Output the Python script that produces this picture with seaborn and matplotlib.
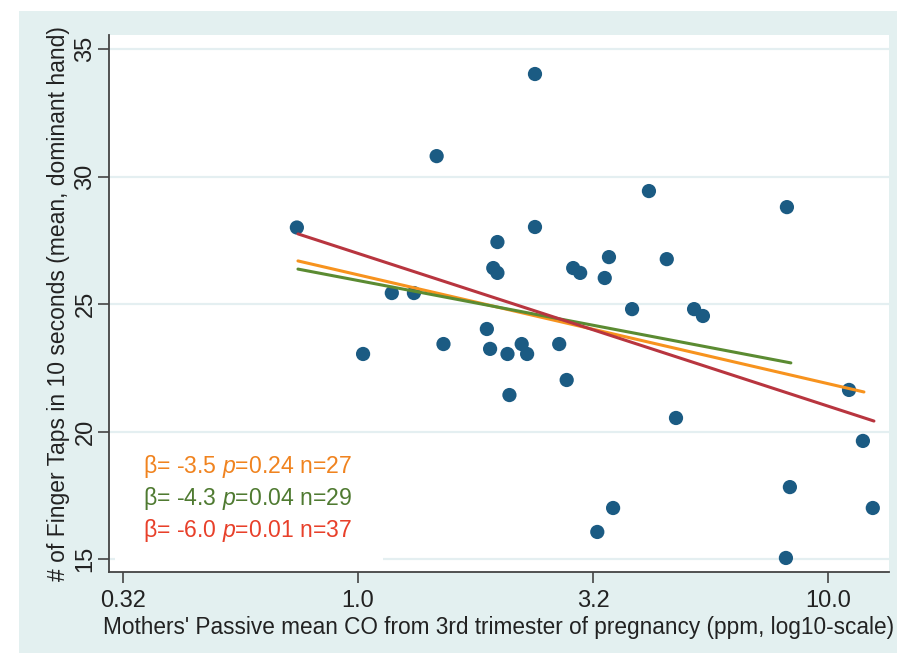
import numpy as np
import pandas as pd
import matplotlib
matplotlib.use("Agg")
import matplotlib.pyplot as plt
import seaborn as sns
from matplotlib.patches import Rectangle

# ---- data ----
co_ppm = [0.741, 1.025, 1.18, 1.315, 1.47, 1.52, 1.88, 1.91, 1.94, 1.98,
          1.98, 2.08, 2.10, 2.23, 2.29, 2.38, 2.38, 2.68, 2.78, 2.87,
          2.97, 3.23, 3.35, 3.42, 3.49, 3.83, 4.16, 4.54, 4.75, 5.19,
          5.42, 8.14, 8.18, 8.30, 11.09, 11.87, 12.46]
taps = [28.0, 23.04, 25.43, 25.43, 30.8, 23.43, 24.02, 23.24, 26.41, 26.22,
        27.43, 23.04, 21.43, 23.43, 23.04, 34.02, 28.02, 23.43, 22.02, 26.41,
        26.22, 16.06, 26.02, 26.84, 17.0, 24.8, 29.43, 26.76, 20.53, 24.8,
        24.53, 15.04, 28.8, 17.82, 21.63, 19.63, 17.0]

fit_names = ["orange", "green", "red"]
fit_x0 = [0.745, 0.745, 0.745]
fit_x1 = [11.93, 8.34, 12.53]
fit_y0 = [26.69, 26.37, 27.75]
fit_y1 = [21.55, 22.69, 20.41]
fit_colors = ["#f7931e", "#5b8b32", "#b8353f"]

ann_beta = ["-3.5", "-4.3", "-6.0"]
ann_p = ["0.24", "0.04", "0.01"]
ann_n = ["27", "29", "37"]
ann_colors = ["#f0831f", "#4f7a31", "#e8402a"]

xticks = [10 ** -0.5, 1.0, 10 ** 0.5, 10.0]
xtick_labels = ["0.32", "1.0", "3.2", "10.0"]
yticks = [15, 20, 25, 30, 35]

# ---- styling ----
sns.set_style("white")
plt.rcParams["font.family"] = ["Liberation Sans", "DejaVu Sans"]
plt.rcParams["mathtext.fontset"] = "custom"
plt.rcParams["mathtext.it"] = "Liberation Sans:italic"
plt.rcParams["mathtext.rm"] = "Liberation Sans"

W, H = 897, 653
fig = plt.figure(figsize=(W / 100, H / 100), dpi=100, facecolor="white")
bg = "#e3f0f0"
fig.patches.append(Rectangle((19 / W, 0), 1 - 19 / W, 1 - 11 / H,
                             transform=fig.transFigure, facecolor=bg,
                             edgecolor="none", zorder=-10))

ax = fig.add_axes([109 / W, 1 - 572 / H, (889 - 109) / W, (572 - 35) / H])
ax.set_facecolor("white")
ax.set_xscale("log")

# grid lines
for yv in yticks:
    ax.axhline(yv, color="#e4eff1", lw=1.6, zorder=0)

df_pts = pd.DataFrame({"co": co_ppm, "taps": taps})
sns.scatterplot(data=df_pts, x="co", y="taps", ax=ax, color="#1b5b83",
                s=105, edgecolor="none", zorder=3, legend=False)

for i, name in enumerate(fit_names):
    dfl = pd.DataFrame({"x": [fit_x0[i], fit_x1[i]], "y": [fit_y0[i], fit_y1[i]]})
    sns.lineplot(data=dfl, x="x", y="y", ax=ax, color=fit_colors[i],
                 lw=2.2, zorder=4, legend=False)

ax.set_xlim(10 ** -0.530, 10 ** 1.130)
ax.set_ylim(14.49, 35.55)

ax.set_xticks(xticks)
ax.set_xticklabels(xtick_labels)
ax.xaxis.set_minor_locator(matplotlib.ticker.NullLocator())
ax.set_yticks(yticks)
ax.set_yticklabels([str(v) for v in yticks], rotation=90, va="center")

ax.tick_params(axis="both", which="major", direction="out", length=8,
               width=1.2, color="#444444", labelsize=17, labelcolor="#222222",
               bottom=True, left=True)
ax.tick_params(axis="x", pad=5)
ax.tick_params(axis="y", pad=1)

for side in ["top", "right"]:
    ax.spines[side].set_visible(False)
for side in ["left", "bottom"]:
    ax.spines[side].set_color("#444444")
    ax.spines[side].set_linewidth(1.3)

ax.set_xlabel("Mothers' Passive mean CO from 3rd trimester of pregnancy (ppm, log10-scale)",
              fontsize=16.3, color="#222222", labelpad=3)
ax.set_ylabel("# of Finger Taps in 10 seconds (mean, dominant hand)",
              fontsize=16.5, color="#222222", labelpad=3)

# annotation box (white background that hides the grid line)
ax.add_patch(Rectangle((115 / W, 1 - 570 / H), (383 - 115) / W, (570 - 445) / H,
                       transform=fig.transFigure, facecolor="white",
                       edgecolor="none", zorder=1))

ys_px = [467, 498, 530]
for i in range(3):
    txt = "β= " + ann_beta[i] + r" $\it{p}$=" + ann_p[i] + " n=" + ann_n[i]
    fig.text(143 / W, 1 - ys_px[i] / H, txt, color=ann_colors[i],
             fontsize=16.6, va="center", ha="left", zorder=5)

fig.savefig("out.png", dpi=100, facecolor=fig.get_facecolor())
